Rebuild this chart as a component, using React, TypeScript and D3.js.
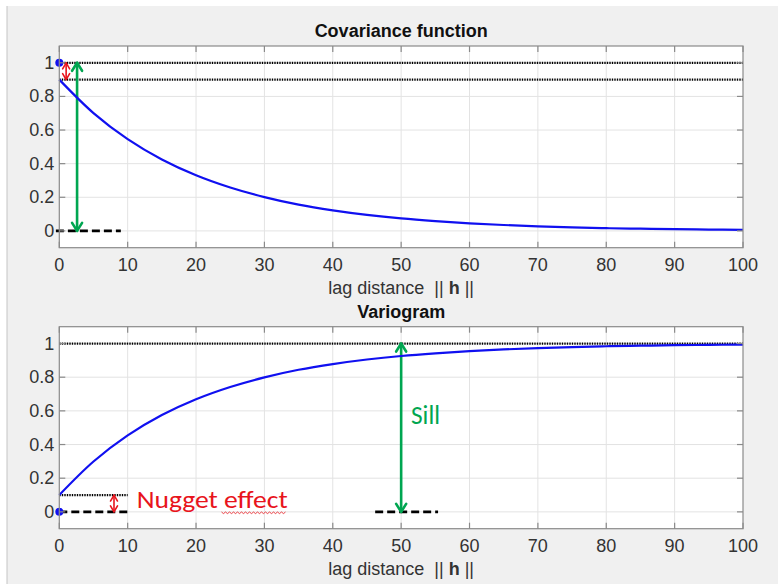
import React from "react";
import * as d3 from "d3";

// lag distances (sample points)
const lagH = [0, 5, 10, 15, 20, 25, 30, 35, 40, 45, 50, 55, 60, 65, 70, 75, 80, 85, 90, 95, 100];
// covariance function values
const covValues = [0.9, 0.701, 0.546, 0.425, 0.331, 0.258, 0.201, 0.156, 0.122, 0.095, 0.074, 0.058, 0.045, 0.035, 0.027, 0.021, 0.016, 0.013, 0.01, 0.008, 0.006];
// variogram values
const varioValues = [0.1, 0.299, 0.454, 0.575, 0.669, 0.742, 0.799, 0.844, 0.878, 0.905, 0.926, 0.942, 0.955, 0.965, 0.973, 0.979, 0.984, 0.987, 0.99, 0.992, 0.994];

const xTicks = [0, 10, 20, 30, 40, 50, 60, 70, 80, 90, 100];
const yTicks = [0, 0.2, 0.4, 0.6, 0.8, 1];
const yTickLabels = ["0", "0.2", "0.4", "0.6", "0.8", "1"];

const titles = ["Covariance function", "Variogram"];

const W = 778;
const H = 584;
const FONT = "'Liberation Sans', Arial, Helvetica, sans-serif";
const ANNOT_FONT = "Carlito, 'Open Sans', 'Noto Sans', sans-serif";

const BLUE = "#1010f0";
const GREEN = "#00a651";
const RED = "#e8141c";

const x = d3.scaleLinear().domain([0, 100]).range([59.3, 743]);

function Arrow({ xp, y1, y2, color, hw, hl, sw }: { xp: number; y1: number; y2: number; color: string; hw: number; hl: number; sw: number }) {
  const top = Math.min(y1, y2);
  const bot = Math.max(y1, y2);
  return (
    <g stroke={color} strokeWidth={sw} fill="none" strokeLinecap="round" strokeLinejoin="round">
      <line x1={xp} x2={xp} y1={top} y2={bot} />
      <path d={`M${xp - hw},${top + hl} L${xp},${top} L${xp + hw},${top + hl}`} />
      <path d={`M${xp - hw},${bot - hl} L${xp},${bot} L${xp + hw},${bot - hl}`} />
    </g>
  );
}

const DOT = { stroke: "#000", strokeWidth: 2.2, strokeDasharray: "1.4,1.1" };
const DASH = { stroke: "#000", strokeWidth: 2.8, strokeDasharray: "8,4" };

function Axes({ top, bottom, values, title, children }: { top: number; bottom: number; values: number[]; title: string; children?: (y: d3.ScaleLinear<number, number>) => React.ReactNode }) {
  const y = d3.scaleLinear().domain([-0.1, 1.1]).range([bottom, top]);
  const [x0, x1] = x.range();
  const pts = lagH.map((h, i) => [h, values[i]] as [number, number]);
  const line = d3
    .line<[number, number]>()
    .x((d) => x(d[0]))
    .y((d) => y(d[1]))
    .curve(d3.curveCatmullRom.alpha(0.5));
  const tickLen = 6;
  const axisColor = "#8a8a8a";
  const textColor = "#333333";
  return (
    <g>
      <rect x={x0} y={top} width={x1 - x0} height={bottom - top} fill="#ffffff" />
      {/* grid */}
      <g stroke="#e3e3e3" strokeWidth={1}>
        {xTicks.slice(1, -1).map((t) => (
          <line key={"gx" + t} x1={x(t)} x2={x(t)} y1={top} y2={bottom} />
        ))}
        {yTicks.map((t) => (
          <line key={"gy" + t} x1={x0} x2={x1} y1={y(t)} y2={y(t)} />
        ))}
      </g>
      {children && children(y)}
      <path d={line(pts) || ""} fill="none" stroke={BLUE} strokeWidth={2.2} />
      {/* box and ticks */}
      <rect x={x0} y={top} width={x1 - x0} height={bottom - top} fill="none" stroke={axisColor} strokeWidth={1.2} />
      <g stroke={axisColor} strokeWidth={1.2}>
        {xTicks.map((t) => (
          <g key={"tx" + t}>
            <line x1={x(t)} x2={x(t)} y1={bottom} y2={bottom - tickLen} />
            <line x1={x(t)} x2={x(t)} y1={top} y2={top + tickLen} />
          </g>
        ))}
        {yTicks.map((t) => (
          <g key={"ty" + t}>
            <line x1={x0} x2={x0 + tickLen} y1={y(t)} y2={y(t)} />
            <line x1={x1} x2={x1 - tickLen} y1={y(t)} y2={y(t)} />
          </g>
        ))}
      </g>
      <g fontFamily={FONT} fontSize={18} fill={textColor}>
        {xTicks.map((t) => (
          <text key={"lx" + t} x={x(t)} y={bottom + 17} textAnchor="middle" dominantBaseline="central">
            {t}
          </text>
        ))}
        {yTicks.map((t, i) => (
          <text key={"ly" + t} x={x0 - 5} y={y(t)} textAnchor="end" dominantBaseline="central">
            {yTickLabels[i]}
          </text>
        ))}
        <text x={(x0 + x1) / 2} y={bottom + 40} textAnchor="middle" dominantBaseline="central" style={{ whiteSpace: "pre" }}>
          {"lag distance  || "}
          <tspan fontWeight="bold">h</tspan>
          {" ||"}
        </text>
        <text x={(x0 + x1) / 2} y={top - 15} textAnchor="middle" dominantBaseline="central" fontWeight="bold" fill="#111">
          {title}
        </text>
      </g>
    </g>
  );
}

export default function App() {
  const squiggle = d3.range(0, 33).map((i) => [221.5 + i * 2, 512 + (i % 2 === 0 ? 0 : 1.6)] as [number, number]);
  return (
    <svg width={W} height={H} style={{ position: "absolute", left: 0, top: 0 }} xmlns="http://www.w3.org/2000/svg">
      <rect x={0} y={0} width={W} height={H} fill="#ffffff" />
      <rect x={7} y={6} width={W - 7} height={H - 6} fill="#f0f0f0" />
      <line x1={7} x2={7} y1={6} y2={H} stroke="#c4c4c4" strokeWidth={1} />
      <Axes top={46} bottom={247.7} values={covValues} title={titles[0]}>
        {(y) => (
          <g>
            <line x1={x(0)} x2={x(100)} y1={y(1)} y2={y(1)} {...DOT} />
            <line x1={x(0)} x2={x(100)} y1={y(0.9)} y2={y(0.9)} {...DOT} />
            <line x1={x(-0.5)} x2={x(9)} y1={y(0)} y2={y(0)} {...DASH} />
            <Arrow xp={x(1)} y1={y(1)} y2={y(0.9)} color={RED} hw={3.5} hl={6} sw={1.6} />
            <Arrow xp={x(2.6)} y1={y(1)} y2={y(0)} color={GREEN} hw={5} hl={8} sw={2.6} />
            <circle cx={x(0)} cy={y(1)} r={4} fill={BLUE} />
          </g>
        )}
      </Axes>
      <Axes top={326.7} bottom={528.7} values={varioValues} title={titles[1]}>
        {(y) => (
          <g>
            <line x1={x(0)} x2={x(100)} y1={y(1)} y2={y(1)} {...DOT} />
            <line x1={x(0)} x2={x(10)} y1={y(0.1)} y2={y(0.1)} {...DOT} />
            <line x1={x(0)} x2={x(10)} y1={y(0)} y2={y(0)} {...DASH} />
            <line x1={x(46.2)} x2={x(55.4)} y1={y(0)} y2={y(0)} {...DASH} />
            <Arrow xp={x(8)} y1={y(0.1)} y2={y(0)} color={RED} hw={3.5} hl={6} sw={1.6} />
            <Arrow xp={x(50)} y1={y(1)} y2={y(0)} color={GREEN} hw={5} hl={8} sw={2.6} />
            <circle cx={x(0)} cy={y(0)} r={4} fill={BLUE} />
            <text x={411} y={424} fontFamily={ANNOT_FONT} fontSize={26} fill={GREEN} textLength={29} lengthAdjust="spacingAndGlyphs">
              Sill
            </text>
          </g>
        )}
      </Axes>
      <text x={136.7} y={508} fontFamily={ANNOT_FONT} fontSize={25} fill={RED} textLength={151} lengthAdjust="spacingAndGlyphs">
        Nugget effect
      </text>
      <path d={d3.line()(squiggle) || ""} fill="none" stroke={RED} strokeWidth={0.8} />
    </svg>
  );
}
